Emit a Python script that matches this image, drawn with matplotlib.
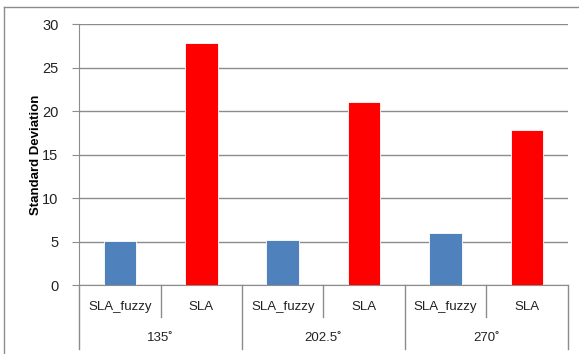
import matplotlib.pyplot as plt
from matplotlib.lines import Line2D

# Data
groups = ['135˚', '202.5˚', '270˚']
methods = ['SLA_fuzzy', 'SLA']
sla_fuzzy = [5.1, 5.2, 6.0]
sla = [27.8, 21.1, 17.8]
colors = {'SLA_fuzzy': '#4F81BD', 'SLA': '#FF0000'}

plt.rcParams['font.family'] = ['Liberation Sans', 'DejaVu Sans']

W, H = 579, 354
fig = plt.figure(figsize=(W / 100, H / 100), dpi=100)
ax = fig.add_axes([79.3 / W, 1 - 285.3 / H, (567.5 - 79.3) / W, (285.3 - 24.3) / H])

# Bars, one slot per (group, method)
xs, vals, cols = [], [], []
for g in range(len(groups)):
    for m, series in enumerate([sla_fuzzy, sla]):
        xs.append(g * 2 + m)
        vals.append(series[g])
        cols.append(colors[methods[m]])
ax.bar(xs, vals, width=0.4, color=cols, edgecolor='white', linewidth=0.6, zorder=3)

ax.set_xlim(-0.5, len(xs) - 0.5)
ax.set_ylim(0, 30)
ax.set_yticks(range(0, 31, 5))
ax.yaxis.grid(True, color='#8c8c8c', linewidth=1.0, zorder=0)
ax.tick_params(axis='y', length=5, color='#8c8c8c', labelsize=10.5, pad=10,
               labelcolor='#222222')
ax.set_xticks([])
for s in ['top', 'right']:
    ax.spines[s].set_visible(False)
for s in ['left', 'bottom']:
    ax.spines[s].set_color('#8c8c8c')
ax.set_ylabel('Standard Deviation', fontsize=9.5, fontweight='bold')
ax.yaxis.set_label_coords(-(79.3 - 42) / (567.5 - 79.3), 0.5)

# Two-level category axis
trans = ax.get_xaxis_transform()
y_short = -(317 - 285.3) / 261
y_long = -(349 - 285.3) / 261
for i, x in enumerate(xs):
    ax.text(x, -(307 - 285.3) / 261, methods[i % 2], transform=trans,
            ha='center', va='center', fontsize=9.5, color='#222222')
for i in range(len(xs) + 1):
    xb = i - 0.5
    y0 = y_long if i % 2 == 0 else y_short
    ax.add_line(Line2D([xb, xb], [0, y0], transform=trans, color='#8c8c8c',
                       linewidth=1.0, clip_on=False))
for g, name in enumerate(groups):
    ax.text(g * 2 + 0.5, -(338 - 285.3) / 261, name, transform=trans,
            ha='center', va='center', fontsize=9.5, color='#222222')

# Chart frame
fig.add_artist(Line2D([4 / W, 1], [1 - 7 / H, 1 - 7 / H], transform=fig.transFigure,
                      color='#8c8c8c', linewidth=1.0))
fig.add_artist(Line2D([4 / W, 4 / W], [0, 1 - 7 / H], transform=fig.transFigure,
                      color='#8c8c8c', linewidth=1.0))

fig.savefig('out.png', dpi=100)
